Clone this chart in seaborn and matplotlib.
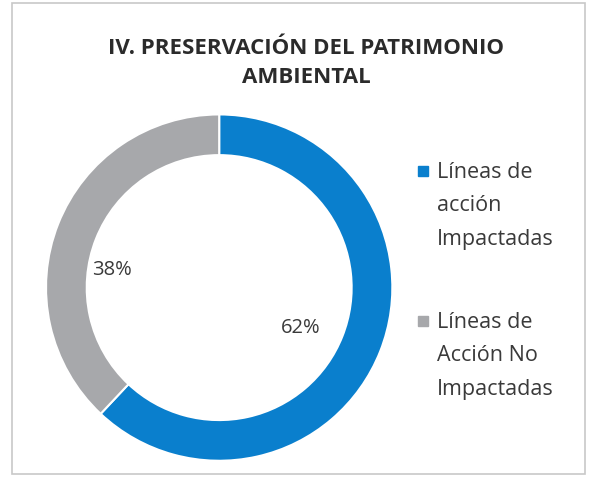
import matplotlib
matplotlib.use("Agg")
import matplotlib.pyplot as plt
from matplotlib.lines import Line2D
from matplotlib.patches import Rectangle
import seaborn as sb

categories = ["Líneas de\nacción\nImpactadas", "Líneas de\nAcción No\nImpactadas"]
values = [62, 38]
pct_labels = ["62%", "38%"]
colors = ["#0a7fcd", "#a7a8ab"]
title = "IV. PRESERVACIÓN DEL PATRIMONIO\nAMBIENTAL"

sb.set_theme(style="white")
plt.rcParams['font.family'] = ['Open Sans', 'DejaVu Sans']

W, H = 594, 481
fig = plt.figure(figsize=(W / 100, H / 100), dpi=100)
fig.patch.set_facecolor("white")
fig.patches.append(Rectangle((0.02, 0.012), 0.965, 0.98, transform=fig.transFigure,
                             fill=False, edgecolor="#c8c8c8", linewidth=1.2))

# ring on the left
ax = fig.add_axes([0.079, 0.04, 0.58, 0.72])
wedges, _ = ax.pie(values, colors=colors, startangle=90, counterclock=False,
                   radius=1.0, wedgeprops=dict(width=0.235, edgecolor="white", linewidth=1.5))
ax.set_aspect("equal")
ax.set_xlim(-0.99, 0.99)
ax.set_ylim(-1.0, 1.0)

ax.text(0.47, -0.23, pct_labels[0], fontsize=14.5, color="#3a3a3a", ha="center", va="center")
ax.text(-0.62, 0.11, pct_labels[1], fontsize=14.5, color="#3a3a3a", ha="center", va="center")

fig.text(0.515, 0.868, title, fontsize=16, fontweight="bold", color="#2b2b2b",
         ha="center", va="center", linespacing=1.5)

# legend drawn by hand so each square sits on the first line of its label
leg_top = [162, 312]
for lab, c, y in zip(categories, colors, leg_top):
    fig.add_artist(Line2D([423 / W], [1 - (y + 10) / H], marker="s", color="none",
                          markerfacecolor=c, markeredgecolor=c, markersize=7,
                          transform=fig.transFigure))
    fig.text(437 / W, 1 - y / H, lab, fontsize=15.5, color="#3a3a3a",
             ha="left", va="top", linespacing=1.78,
             transform=fig.transFigure)

fig.savefig("out.png", dpi=100)
